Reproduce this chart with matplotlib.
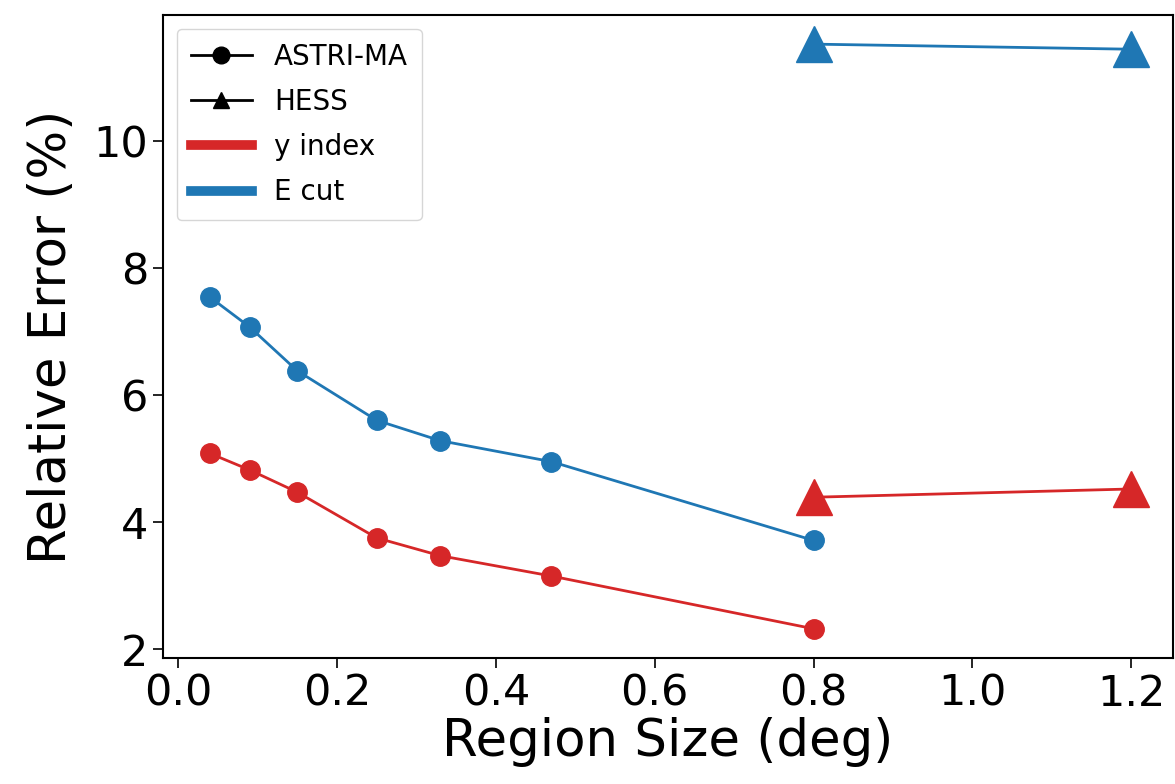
import numpy as np
import matplotlib
matplotlib.use("Agg")
import matplotlib.pyplot as plt
from matplotlib.lines import Line2D

# region sizes (deg)
astri_size = [0.04, 0.09, 0.15, 0.25, 0.33, 0.47, 0.8]
hess_size = [0.8, 1.2]

# relative errors (%)
astri_index = [5.08, 4.82, 4.47, 3.75, 3.47, 3.15, 2.32]
astri_ecut = [7.54, 7.07, 6.38, 5.60, 5.28, 4.95, 3.71]
hess_index = [4.39, 4.52]
hess_ecut = [11.52, 11.44]

red = '#d62728'
blue = '#1f77b4'

fig = plt.figure(figsize=(11.75, 7.84), dpi=100)
ax = fig.add_axes([0.1387, 0.1607, 0.8593, 0.8203])

ax.plot(astri_size, astri_index, color=red, marker='o', markersize=14, lw=2)
ax.plot(astri_size, astri_ecut, color=blue, marker='o', markersize=14, lw=2)
ax.plot(hess_size, hess_index, color=red, marker='^', markersize=26, lw=2)
ax.plot(hess_size, hess_ecut, color=blue, marker='^', markersize=26, lw=2)

ax.set_xlim(-0.019, 1.252)
ax.set_yticks([2, 4, 6, 8, 10])
ax.set_xticks([0.0, 0.2, 0.4, 0.6, 0.8, 1.0, 1.2])
ax.tick_params(labelsize=31, length=7, width=1.2)
ax.set_xlabel('Region Size (deg)', fontsize=37, labelpad=2)
ax.set_ylabel('Relative Error (%)', fontsize=37, labelpad=12)
for s in ax.spines.values():
    s.set_linewidth(1.5)

handles = [
    Line2D([], [], color='k', marker='o', markersize=12, lw=2),
    Line2D([], [], color='k', marker='^', markersize=11, lw=2),
    Line2D([], [], color=red, lw=7),
    Line2D([], [], color=blue, lw=7),
]
ax.legend(handles, ['ASTRI-MA', 'HESS', 'y index', 'E cut'], loc='upper left',
          fontsize=20, handlelength=2.2, borderpad=0.5, labelspacing=0.62)

fig.savefig('out.png', dpi=100)
